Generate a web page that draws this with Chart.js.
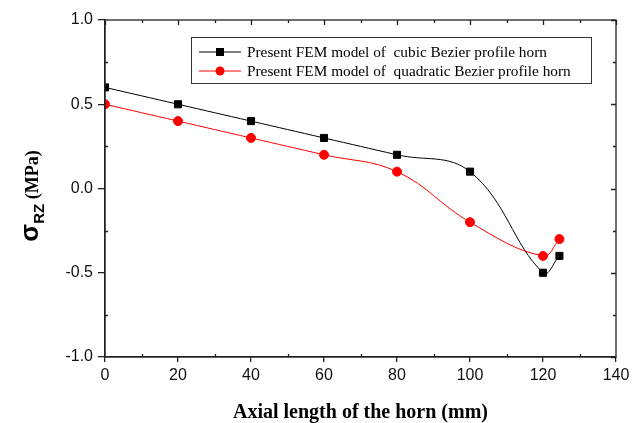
<!DOCTYPE html>
<html>
<head>
<meta charset="utf-8">
<script src="https://cdn.jsdelivr.net/npm/chart.js@4.4.0/dist/chart.umd.min.js"></script>
<style>
  html, body { margin: 0; padding: 0; background: #fff; }
  #wrap { width: 642px; height: 423px; }
</style>
</head>
<body>
<div id="wrap"><canvas id="myChart" width="642" height="423"></canvas></div>
<script>
//DATA
var xVals = [0, 20, 40, 60, 80, 100, 120, 124.5];
var cubicVals = [0.6, 0.5, 0.4, 0.3, 0.2, 0.1, -0.5, -0.4];
var quadVals = [0.5, 0.4, 0.3, 0.2, 0.1, -0.2, -0.4, -0.3];
var seriesNames = ["Present FEM model of  cubic Bezier profile horn",
                   "Present FEM model of  quadratic Bezier profile horn"];
var xTicks = [0, 20, 40, 60, 80, 100, 120, 140];
var yTicks = [-1.0, -0.5, 0.0, 0.5, 1.0];

function pts(ys){
  return xVals.map(function(x, i){ return {x: x, y: ys[i]}; });
}

//frame, minor ticks, legend and y title
var extras = {
  id: 'extras',
  afterDraw: function(chart){
    var c = chart.ctx, a = chart.chartArea;
    var xs = chart.scales.x, ys = chart.scales.y;
    c.save();
    c.strokeStyle = '#222';
    c.lineWidth = 1.3;
    c.strokeRect(a.left, a.top, a.right - a.left, a.bottom - a.top);
    c.beginPath();
    //x ticks top + minor
    for (var v = 0; v <= 140; v += 10) {
      var px = Math.round(xs.getPixelForValue(v)) + 0.5;
      var len = (v % 20 == 0) ? 5 : 3;
      c.moveTo(px, a.top); c.lineTo(px, a.top + len);
      if (v % 20 != 0) { c.moveTo(px, a.bottom); c.lineTo(px, a.bottom - len); }
    }
    for (var w = -1; w <= 1.001; w += 0.25) {
      var py = Math.round(ys.getPixelForValue(w)) + 0.5;
      var major = Math.abs(w * 2 - Math.round(w * 2)) < 0.01;
      var l2 = major ? 5 : 3;
      c.moveTo(a.right, py); c.lineTo(a.right - l2, py);
      if (!major) { c.moveTo(a.left, py); c.lineTo(a.left + l2, py); }
    }
    c.stroke();

    //legend
    var lx = 191, ly = 37, lw = 400, lh = 46;
    c.fillStyle = '#fff';
    c.fillRect(lx, ly, lw, lh);
    c.strokeStyle = '#333';
    c.lineWidth = 1;
    c.strokeRect(lx + 0.5, ly + 0.5, lw, lh);
    chart.data.datasets.forEach(function(ds, i){
      var yy = ly + 15 + i * 19;
      c.strokeStyle = ds.borderColor;
      c.lineWidth = 1;
      c.beginPath(); c.moveTo(199, yy); c.lineTo(241, yy); c.stroke();
      c.fillStyle = ds.pointBackgroundColor;
      if (ds.pointStyle == 'rect') { c.fillRect(216, yy - 4, 8, 8); }
      else { c.beginPath(); c.arc(220, yy, 4.5, 0, Math.PI * 2); c.fill(); }
      c.fillStyle = '#000';
      c.font = '15.3px "Liberation Serif"';
      c.textBaseline = 'middle';
      c.textAlign = 'left';
      c.fillText(ds.label, 247, yy + 1);
    });

    //y title
    c.translate(38, 190);
    c.rotate(-Math.PI / 2);
    c.fillStyle = '#000';
    c.textBaseline = 'alphabetic';
    c.font = 'bold 26px "Liberation Sans"';
    var s1 = 'σ', w1 = c.measureText(s1).width;
    c.font = 'bold 15px "Liberation Sans"';
    var s2 = 'RZ', w2 = c.measureText(s2).width;
    c.font = 'bold 18px "Liberation Serif"';
    var s3 = ' (MPa)', w3 = c.measureText(s3).width;
    var x0 = -(w1 + w2 + w3) / 2 - 6;
    c.font = 'bold 26px "Liberation Sans"';
    c.fillText(s1, x0, 0);
    c.font = 'bold 15px "Liberation Sans"';
    c.fillText(s2, x0 + w1, 6);
    c.font = 'bold 18px "Liberation Serif"';
    c.fillText(s3, x0 + w1 + w2, 0);
    c.restore();
  }
};

var ctx = document.getElementById('myChart').getContext('2d');
var myChart = new Chart(ctx, {
  type: 'line',
  data: {
    datasets: [{
      label: seriesNames[0],
      data: pts(cubicVals),
      borderColor: '#000',
      backgroundColor: '#000',
      pointBackgroundColor: '#000',
      pointBorderColor: '#000',
      pointStyle: 'rect',
      pointRadius: 5,
      borderWidth: 1,
      tension: 0.4
    }, {
      label: seriesNames[1],
      data: pts(quadVals),
      borderColor: '#ff0000',
      backgroundColor: '#ff0000',
      pointBackgroundColor: '#ff0000',
      pointBorderColor: '#ff0000',
      pointStyle: 'circle',
      pointRadius: 4.5,
      borderWidth: 1,
      tension: 0.4
    }]
  },
  options: {
    responsive: false,
    animation: false,
    layout: { padding: { top: 20, right: 26, left: 0, bottom: 0 } },
    plugins: { legend: { display: false }, tooltip: { enabled: false } },
    scales: {
      x: {
        type: 'linear',
        min: 0, max: 140,
        afterBuildTicks: function(s){ s.ticks = xTicks.map(function(v){ return {value: v}; }); },
        afterFit: function(s){ s.height = 66; },
        grid: { drawOnChartArea: false, drawTicks: true, tickLength: 5, color: '#222', lineWidth: 1.3 },
        border: { display: true, color: '#222', width: 1.3 },
        ticks: { color: '#111', font: { family: 'Liberation Sans', size: 16 }, padding: 4, maxRotation: 0 },
        title: { display: true, text: 'Axial length of the horn (mm)', color: '#000',
                 font: { family: 'Liberation Serif', size: 20, weight: 'bold' }, padding: { top: 0, bottom: -2 } }
      },
      y: {
        min: -1, max: 1,
        afterBuildTicks: function(s){ s.ticks = yTicks.map(function(v){ return {value: v}; }); },
        afterFit: function(s){ s.width = 105; },
        grid: { drawOnChartArea: false, drawTicks: true, tickLength: 7, color: '#222', lineWidth: 1.3 },
        border: { display: true, color: '#222', width: 1.3 },
        ticks: { color: '#111', font: { family: 'Liberation Sans', size: 16 }, padding: 5,
                 callback: function(v){ return v.toFixed(1); } }
      }
    }
  },
  plugins: [extras]
});
</script>
</body>
</html>
